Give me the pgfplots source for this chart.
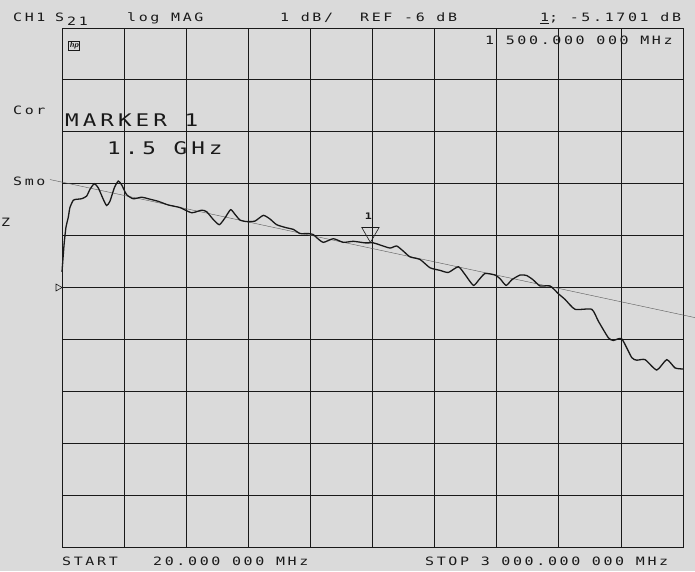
\documentclass[border=0pt]{standalone}
\usepackage{pgfplots}
\pgfplotsset{compat=1.18}
\usepackage{fontspec}
\newfontfamily\plt[FakeStretch=1.3,LetterSpace=23]{DejaVu Sans Mono}
\definecolor{bg}{RGB}{218,218,218}
\definecolor{ink}{RGB}{25,25,25}
\newcommand{\pltsm}{\plt\fontsize{11.5}{12}\selectfont}
\newcommand{\pltlg}{\plt\fontsize{17.4}{18}\selectfont}
\begin{document}
\begin{tikzpicture}
\useasboundingbox (-62pt,-24pt) rectangle (633pt,547pt);
\fill[bg] (-62pt,-24pt) rectangle (633pt,547pt);
\begin{axis}[at={(0pt,0pt)}, anchor=south west, scale only axis,
  width=621pt, height=519pt,
  xmin=20, xmax=3000, ymin=-11, ymax=-1,
  xtick={20,318,616,914,1212,1510,1808,2106,2404,2702,3000},
  ytick={-11,-10,-9,-8,-7,-6,-5,-4,-3,-2,-1},
  xticklabels={}, yticklabels={}, major tick length=0pt,
  grid=major, grid style={ink, line width=0.8pt},
  axis line style={ink, line width=0.8pt},
  clip=false]
% straight reference line
\addplot[gray!70!black, line width=0.4pt] coordinates {(-37.6,-3.92) (3057.6,-6.58)};
% measured trace
\addplot[ink, line width=1.3pt, smooth, tension=0.35] coordinates {
(20,-5.70) (30,-5.17) (39,-4.84) (50,-4.65) (58,-4.46) (74,-4.32) (90,-4.30)
(114,-4.29) (138,-4.24) (154,-4.11) (175,-4.00) (194,-4.08) (218,-4.30)
(234,-4.42) (250,-4.34) (271,-4.08) (290,-3.95) (306,-4.02) (330,-4.21)
(362,-4.29) (402,-4.26) (434,-4.29) (482,-4.34) (530,-4.41) (586,-4.46)
(642,-4.56) (690,-4.51) (714,-4.54) (746,-4.69) (775,-4.79) (802,-4.66)
(829,-4.50) (850,-4.59) (874,-4.70) (906,-4.73) (946,-4.72) (986,-4.61)
(1018,-4.68) (1050,-4.79) (1098,-4.85) (1130,-4.88) (1162,-4.96) (1202,-4.96)
(1226,-4.98) (1242,-5.04) (1274,-5.13) (1322,-5.06) (1370,-5.13) (1418,-5.11)
(1474,-5.14) (1514,-5.14) (1546,-5.18) (1594,-5.24) (1626,-5.20) (1658,-5.30)
(1690,-5.41) (1738,-5.46) (1786,-5.62) (1834,-5.67) (1874,-5.71) (1922,-5.60)
(1954,-5.75) (1994,-5.96) (2021,-5.85) (2050,-5.73) (2098,-5.76) (2122,-5.83)
(2151,-5.96) (2179,-5.85) (2218,-5.76) (2250,-5.77) (2280,-5.85) (2314,-5.97)
(2362,-5.97) (2402,-6.12) (2434,-6.23) (2482,-6.42) (2562,-6.42) (2594,-6.65)
(2642,-6.97) (2666,-7.02) (2706,-6.99) (2754,-7.35) (2778,-7.40) (2818,-7.39)
(2874,-7.59) (2922,-7.39) (2962,-7.55) (3000,-7.57)};
% marker 1
\addplot[only marks, mark=triangle, mark size=10pt,
  mark options={rotate=180, draw=ink, fill=none, line width=0.6pt}] coordinates {(1500,-4.94)};
\node[font=\plt\fontsize{9}{9}\selectfont\bfseries, text=ink] at (axis cs:1490,-4.62) {1};
% reference position
\addplot[only marks, mark=triangle, mark size=4pt,
  mark options={rotate=-90, draw=ink, fill=none, line width=0.6pt}] coordinates {(1,-6)};
\end{axis}
% annotations
\begin{scope}[every node/.style={inner sep=0pt, text=ink}]
\node[anchor=base west, font=\pltsm] at (-49pt,525pt) {CH1};
\node[anchor=base west, font=\pltsm] at (-7pt,525pt) {S};
\node[anchor=base west, font=\pltsm] at (5pt,521pt) {21};
\node[anchor=base west, font=\pltsm] at (65pt,525pt) {log MAG};
\node[anchor=base west, font=\pltsm] at (218pt,525pt) {1 dB/};
\node[anchor=base west, font=\pltsm] at (298pt,525pt) {REF -6 dB};
\node[anchor=base west, font=\pltsm] at (478pt,525pt) {\underline{1}; -5.1701 dB};
\node[anchor=base west, font=\pltsm] at (423pt,502pt) {1 500.000 000 MHz};
\node[anchor=base west, font=\pltsm] at (-49pt,432pt) {Cor};
\node[anchor=base west, font=\pltsm] at (-49pt,361pt) {Smo};
\node[anchor=base west, font=\pltsm] at (-61pt,320pt) {Z};
\node[anchor=base west, font=\pltlg] at (3pt,420pt) {MARKER 1};
\node[anchor=base west, font=\pltlg] at (45pt,392pt) {1.5 GHz};
\node[anchor=base west, font=\pltsm] at (0pt,-18pt) {START};
\node[anchor=base west, font=\pltsm] at (91pt,-18pt) {20.000 000 MHz};
\node[anchor=base west, font=\pltsm] at (363pt,-18pt) {STOP 3 000.000 000 MHz};
\node[draw=ink, line width=0.5pt, inner sep=1pt, font=\sffamily\itshape\bfseries\fontsize{8}{8}\selectfont] at (12pt,501pt) {hp};
\end{scope}
\end{tikzpicture}
\end{document}
